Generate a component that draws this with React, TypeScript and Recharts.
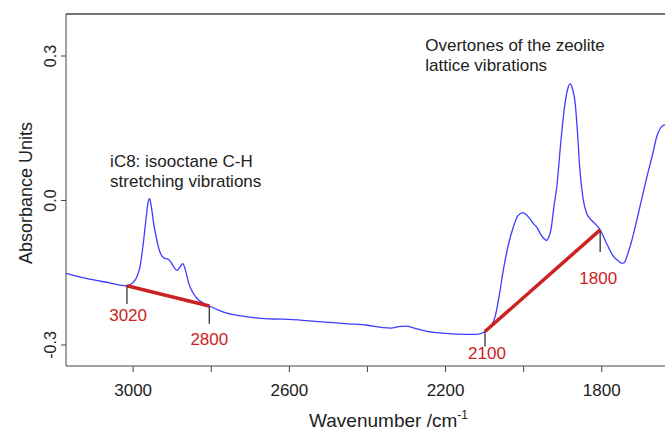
import React from 'react';
import {
  LineChart,
  Line,
  XAxis,
  YAxis,
  ReferenceLine,
  ReferenceDot,
} from 'recharts';

// spectrum: wavenumber (cm-1) and absorbance
const wavenumbers = [
  3172, 3140, 3100, 3060, 3030, 3016, 3000, 2990, 2982, 2975, 2968, 2962, 2958, 2954, 2948,
  2940, 2931, 2920, 2912, 2904, 2896, 2888, 2880, 2873, 2866, 2858, 2848, 2837, 2820, 2805,
  2780, 2760, 2720, 2680, 2640, 2600, 2550, 2500, 2450, 2400, 2360, 2340, 2320, 2300, 2280,
  2250, 2200, 2150, 2120, 2099, 2085, 2073, 2062, 2052, 2040, 2026, 2015, 2002, 1990, 1975,
  1966, 1955, 1947, 1941, 1936, 1930, 1922, 1915, 1905, 1894, 1887, 1881, 1875, 1868, 1862,
  1856, 1848, 1839, 1825, 1815, 1804, 1790, 1770, 1755, 1750, 1745, 1740, 1735, 1722, 1710,
  1697, 1684, 1670, 1659, 1650, 1644, 1638,
];
const absorbance = [
  -0.151, -0.158, -0.165, -0.171, -0.176, -0.177, -0.17, -0.158, -0.135, -0.095, -0.045, -0.005, 0.004, -0.01, -0.045,
  -0.08, -0.108, -0.12, -0.121, -0.127, -0.138, -0.145, -0.138, -0.131, -0.145, -0.171, -0.19, -0.203, -0.213, -0.219,
  -0.228, -0.234, -0.24, -0.244, -0.246, -0.247, -0.25, -0.253, -0.256, -0.259, -0.264, -0.265, -0.262, -0.261, -0.265,
  -0.271, -0.276, -0.278, -0.278, -0.272, -0.262, -0.241, -0.195, -0.144, -0.095, -0.054, -0.032, -0.025, -0.032, -0.048,
  -0.056, -0.072, -0.08, -0.083, -0.077, -0.06, -0.01, 0.029, 0.12, 0.202, 0.232, 0.242, 0.232, 0.202, 0.14,
  0.064, 0.005, -0.026, -0.042, -0.05, -0.061, -0.085, -0.116, -0.127, -0.13, -0.13, -0.126, -0.115, -0.08, -0.04,
  0.005, 0.05, 0.095, 0.133, 0.15, 0.155, 0.157,
];

const xTicks = [3000, 2800, 2600, 2400, 2200, 2000, 1800];
const xLabelled = [3000, 2600, 2200, 1800];
const yTicks = [-0.3, 0, 0.3];
const X_DOMAIN: [number, number] = [1638, 3172];
const Y_DOMAIN: [number, number] = [-0.3436, 0.3872];

// integration baselines (red) and their end markers
const baseFrom = [3016, 2099];
const baseFromY = [-0.177, -0.272];
const baseTo = [2805, 1804];
const baseToY = [-0.219, -0.061];
const markX = [3016, 2805, 2099, 1804];
const markTop = [-0.177, -0.219, -0.272, -0.061];
const markBottom = [-0.215, -0.256, -0.303, -0.107];
const bandLabels = ['3020', '2800', '2100', '1800'];
const bandLabelX = [3013, 2805, 2094, 1809];
const bandLabelY = [-0.237, -0.288, -0.316, -0.161];

const noteLines = [
  ['iC8: isooctane C-H', 'stretching vibrations'],
  ['Overtones of the zeolite', 'lattice vibrations'],
];
const noteX = [3059, 2252];
const noteY = [0.081, 0.323];

const data = wavenumbers.map((wn, i) => ({ wn, abs: absorbance[i] }));

const FONT = '"Liberation Sans", Arial, sans-serif';
const BLUE = '#3f3cff';
const RED = '#cc2222';
const INK = '#222';

function YTick({ x, y, payload }: any) {
  const v = payload.value as number;
  const bx = x - 3;
  return (
    <text
      x={bx}
      y={y}
      transform={`rotate(-90 ${bx} ${y})`}
      textAnchor="middle"
      fontFamily={FONT}
      fontSize={16}
      fill={INK}
    >
      {v.toFixed(1)}
    </text>
  );
}

function XTitle({ viewBox }: any) {
  const cx = viewBox.x + viewBox.width / 2 + 23;
  return (
    <text x={cx} y={viewBox.y + 61} textAnchor="middle" fontFamily={FONT} fontSize={19} fill={INK}>
      Wavenumber /cm
      <tspan fontSize={12} dy={-8}>
        -1
      </tspan>
    </text>
  );
}

function YTitle({ viewBox }: any) {
  const cx = viewBox.x + 32;
  const cy = viewBox.y + viewBox.height / 2 + 3;
  return (
    <text
      x={cx}
      y={cy}
      transform={`rotate(-90 ${cx} ${cy})`}
      textAnchor="middle"
      fontFamily={FONT}
      fontSize={18}
      fill={INK}
    >
      Absorbance Units
    </text>
  );
}

function noteContent(lines: string[]) {
  return ({ viewBox }: any) => (
    <text x={viewBox.x} y={viewBox.y} fontFamily={FONT} fontSize={17} fill={INK}>
      {lines.map((t, i) => (
        <tspan key={t} x={viewBox.x} dy={i === 0 ? '0.35em' : 20}>
          {t}
        </tspan>
      ))}
    </text>
  );
}

function bandContent(label: string) {
  return ({ viewBox }: any) => (
    <text
      x={viewBox.x}
      y={viewBox.y}
      dy="0.35em"
      textAnchor="middle"
      fontFamily={FONT}
      fontSize={17}
      fill={RED}
    >
      {label}
    </text>
  );
}

export default function App() {
  return (
    <div style={{ position: 'absolute', left: 0, top: 0, background: '#fff' }}>
      <LineChart width={665} height={431} data={data} margin={{ top: 14, right: 0, bottom: 0, left: 0 }}>
        <XAxis
          dataKey="wn"
          type="number"
          domain={X_DOMAIN}
          reversed
          ticks={xTicks}
          interval={0}
          allowDataOverflow
          height={65}
          tickSize={6}
          tickMargin={12}
          stroke="#444"
          tick={{ fill: INK, fontSize: 17, fontFamily: FONT }}
          tickFormatter={(v: number) => (xLabelled.includes(v) ? String(v) : '')}
          label={{ content: <XTitle /> }}
        />
        <YAxis
          type="number"
          domain={Y_DOMAIN}
          ticks={yTicks}
          allowDataOverflow
          width={66}
          tickSize={5}
          tickMargin={2}
          stroke="#444"
          tick={<YTick />}
          label={{ content: <YTitle /> }}
        />
        <ReferenceLine y={Y_DOMAIN[1]} stroke="#444" strokeWidth={1.5} />
        <Line
          type="monotone"
          dataKey="abs"
          stroke={BLUE}
          strokeWidth={1.3}
          dot={false}
          isAnimationActive={false}
        />
        {markX.map((x, i) => (
          <ReferenceLine
            key={`m${i}`}
            segment={[
              { x, y: markTop[i] },
              { x, y: markBottom[i] },
            ]}
            stroke="#333"
            strokeWidth={1.3}
          />
        ))}
        {baseFrom.map((x, i) => (
          <ReferenceLine
            key={`b${i}`}
            segment={[
              { x, y: baseFromY[i] },
              { x: baseTo[i], y: baseToY[i] },
            ]}
            stroke={RED}
            strokeWidth={3.5}
          />
        ))}
        {bandLabels.map((t, i) => (
          <ReferenceDot
            key={t}
            x={bandLabelX[i]}
            y={bandLabelY[i]}
            r={0}
            fill="none"
            stroke="none"
            label={{ content: bandContent(t) }}
          />
        ))}
        {noteLines.map((lines, i) => (
          <ReferenceDot
            key={lines[0]}
            x={noteX[i]}
            y={noteY[i]}
            r={0}
            fill="none"
            stroke="none"
            label={{ content: noteContent(lines) }}
          />
        ))}
      </LineChart>
    </div>
  );
}
